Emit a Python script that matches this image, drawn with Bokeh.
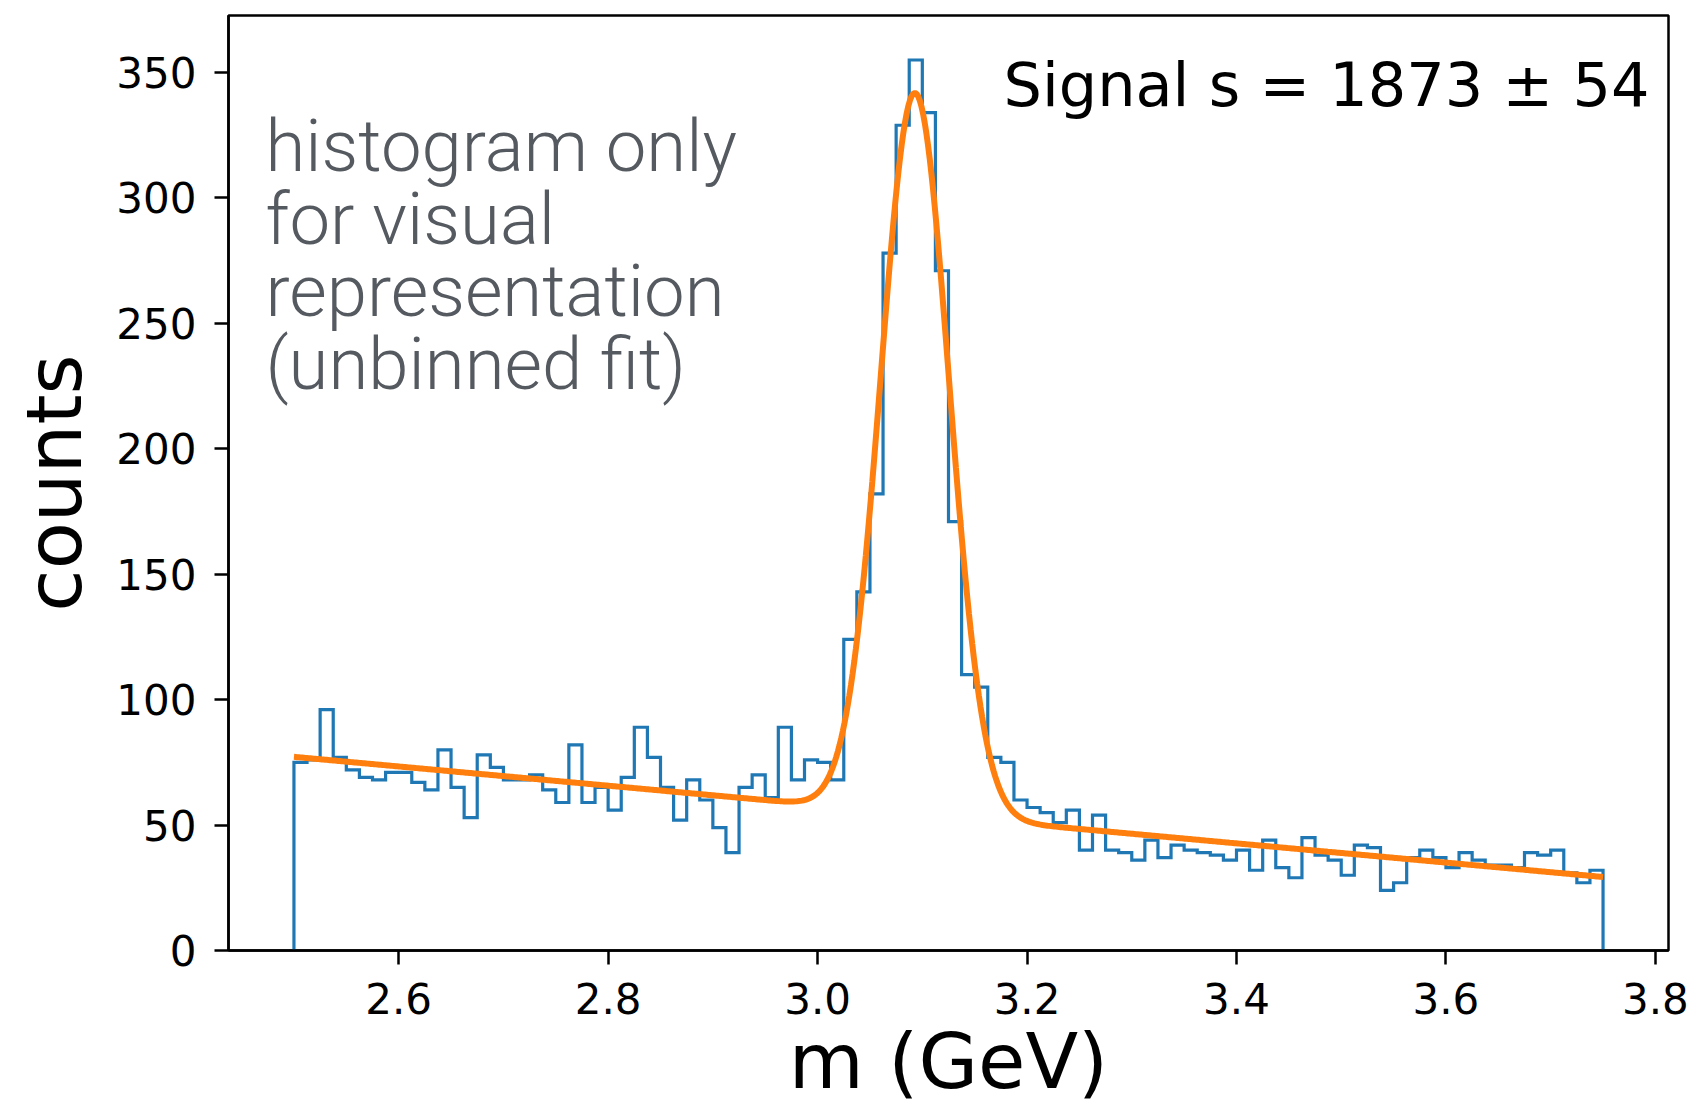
import numpy as np
from bokeh.plotting import figure
from bokeh.models import FixedTicker, Label, Range1d
from bokeh.embed import file_html
from bokeh.resources import INLINE

# ---------------- data ----------------
bin_lo = 2.5
bin_hi = 3.75
n_bins = 100
counts = [
    75, 76, 96, 77, 72, 69, 68, 71, 71, 67,
    64, 80, 65, 53, 78, 73, 68, 68, 70, 64,
    59, 82, 59, 65, 56, 69, 89, 77, 65, 52,
    68, 60, 49, 39, 65, 70, 61, 89, 68, 76,
    75, 68, 124, 143, 182, 278, 329, 355, 334, 271,
    171, 110, 105, 77, 75, 60, 57, 55, 51, 56,
    40, 54, 40, 39, 36, 44, 37, 42, 40, 39,
    38, 36, 40, 32, 44, 33, 29, 45, 38, 36,
    30, 42, 41, 24, 27, 37, 40, 37, 33, 39,
    36, 34, 34, 33, 39, 38, 40, 31, 27, 32,
]

# fitted model parameters (signal gaussian + linear background)
fit_mu = 3.093
fit_sigma = 0.0325
fit_signal = 1873
fit_signal_err = 54
bkg_at_lo = 77.2
bkg_at_hi = 29.3

x_ticks = [2.6, 2.8, 3.0, 3.2, 3.4, 3.6, 3.8]
x_tick_labels = ["2.6", "2.8", "3.0", "3.2", "3.4", "3.6", "3.8"]
y_ticks = [0, 50, 100, 150, 200, 250, 300, 350]
x_label = "m (GeV)"
y_label = "counts"
note_lines = ["histogram only", "for visual", "representation", "(unbinned fit)"]
signal_text = f"Signal s = {fit_signal} \u00b1 {fit_signal_err}"

# ---------------- derived geometry ----------------
edges = np.linspace(bin_lo, bin_hi, n_bins + 1)
bw = edges[1] - edges[0]
hx = np.repeat(edges, 2)
hy = np.concatenate([[0], np.repeat(np.asarray(counts, float), 2), [0]])

xf = np.linspace(bin_lo, bin_hi, 800)
bkg = bkg_at_lo + (bkg_at_hi - bkg_at_lo) * (xf - bin_lo) / (bin_hi - bin_lo)
amp = fit_signal * bw / (np.sqrt(2 * np.pi) * fit_sigma)
model = bkg + amp * np.exp(-0.5 * ((xf - fit_mu) / fit_sigma) ** 2)

span = bin_hi - bin_lo
ymax = max(counts) * 1.05

p = figure(
    width=1696, height=1109,
    x_range=Range1d(bin_lo - 0.05 * span, bin_hi + 0.05 * span),
    y_range=Range1d(0, ymax),
    output_backend="svg", toolbar_location=None,
    min_border_left=228, min_border_right=28,
    min_border_top=15, min_border_bottom=159,
)
p.xgrid.visible = False
p.ygrid.visible = False
p.background_fill_color = "white"
p.border_fill_color = "white"
p.outline_line_color = "black"
p.outline_line_width = 2.5
p.outline_line_alpha = 1.0

for ax in (p.xaxis[0], p.yaxis[0]):
    ax.axis_line_color = "black"
    ax.axis_line_width = 2.5
    ax.major_tick_line_color = "black"
    ax.major_tick_line_width = 2.5
    ax.major_tick_out = 14
    ax.major_tick_in = 0
    ax.minor_tick_out = 0
    ax.minor_tick_in = 0
    ax.major_label_text_font = "DejaVu Sans"
    ax.major_label_text_font_size = "42px"
    ax.major_label_text_color = "black"
    ax.axis_label_text_font = "DejaVu Sans"
    ax.axis_label_text_font_size = "77px"
    ax.axis_label_text_font_style = "normal"
    ax.axis_label_text_color = "black"

p.xaxis.ticker = FixedTicker(ticks=x_ticks)
p.xaxis.major_label_overrides = {t: l for t, l in zip(x_ticks, x_tick_labels)}
p.yaxis.ticker = FixedTicker(ticks=y_ticks)
p.xaxis.axis_label = x_label
p.yaxis.axis_label = y_label
p.xaxis.major_label_standoff = 18
p.yaxis.major_label_standoff = 18
p.xaxis.axis_label_standoff = 0
p.yaxis.axis_label_standoff = 14

p.line(hx, hy, line_color="#1f77b4", line_width=3.2, line_join="miter")
p.line(xf, model, line_color="#ff7f0e", line_width=6)

p.add_layout(Label(x=3.7943, y=345.0, text=signal_text, text_align="right",
                   text_baseline="alphabetic", text_font="DejaVu Sans",
                   text_font_size="60.5px", text_color="black"))

note_y = [320.6, 291.6, 262.6, 233.6]
for line, yy in zip(note_lines, note_y):
    p.add_layout(Label(x=2.4728, y=yy, text=line, text_align="left",
                       text_baseline="alphabetic", text_font="Roboto Light",
                       text_font_size="72.5px", text_color="#555a61"))

open("out.html", "w").write(file_html(p, INLINE))
